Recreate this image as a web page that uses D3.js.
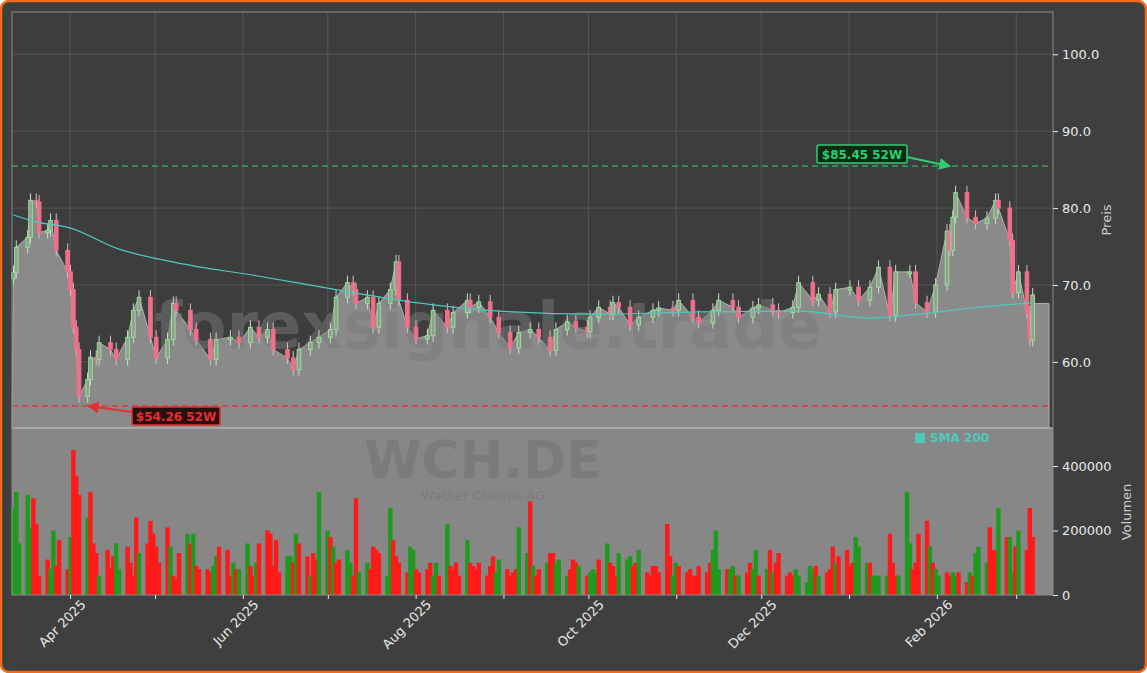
<!DOCTYPE html>
<html><head><meta charset="utf-8">
<script src="https://cdn.jsdelivr.net/npm/d3@7"></script>
<style>body{margin:0;background:#fff}svg{display:block}</style>
</head><body>
<script>
// ---- data ----
const closeIdx = [0,1,3,4,6,7,8,9,11,13,14,15,16,17,18,19,21,22,24,26,28,30,32,34,36,38,40,41,44,46,49,51,54,57,59,62,63,65,68,70,72,74,77,79,81,83,85,86,88,90,92,94,96,97,98,101,103,105,108,110,113,114,117,119,122,124,127,129,132,134,136,138,141,143,144,147,149,150,152,154,157,160,162,165,167,170,172,175,177,180,182,185,187,190,192,195,197,200,202,204,206,209,212,214,217,219,221,224,226,228,231,233,234,235,236,238,241,243,246,247,249,250,252,253,254,255];
const closeVal = [71.6,74.9,76.2,81.0,80.8,76.8,77.1,78.4,74.5,71.7,69.4,64.5,61.6,55.5,57.7,60.6,60.3,62.5,61.6,60.3,63.2,66.7,68.4,63.2,60.5,62.9,67.6,66.7,64.2,62.9,60.3,62.9,63.2,62.5,64.5,63.2,64.2,61.6,60.5,59.0,61.6,62.5,63.2,64.2,68.4,70.3,69.4,67.6,68.4,64.5,67.6,69.4,73.0,68.0,64.5,63.0,63.4,66.7,64.5,66.4,68.0,67.1,67.8,65.8,63.8,61.8,63.8,64.2,63.2,61.5,64.2,65.2,64.5,63.9,65.8,67.1,66.2,67.7,67.1,64.8,65.8,66.7,67.0,66.7,68.0,65.8,65.1,66.7,68.0,67.1,65.8,67.0,67.4,66.7,66.4,67.1,70.3,68.0,68.8,66.5,69.4,69.7,68.0,69.7,72.3,66.0,71.7,71.7,67.7,66.5,70.0,77.0,74.5,78.8,82.0,78.8,78.0,78.7,81.0,80.0,75.8,69.0,71.7,66.4,62.8,68.7];
const smaIdx = [0,6,14,26,41,61,81,101,122,147,172,197,214,227,242,255];
const smaVal = [79.1,78.2,77.4,74.8,72.9,71.2,69.4,67.7,66.6,66.2,66.5,66.6,65.7,66.2,67.1,67.7];
const volK = [270,320,160,310,210,300,220,60,110,80,200,90,170,80,180,450,
370,310,240,320,160,130,60,140,85,120,160,80,150,100,60,240,
130,160,230,190,150,100,210,150,60,50,130,190,160,190,90,80,
80,70,90,120,150,140,60,100,80,80,160,90,60,100,160,200,
190,90,170,70,120,120,100,190,160,120,60,130,110,320,200,180,
150,100,110,140,100,60,300,70,100,80,150,140,130,60,270,170,
120,100,70,150,140,80,70,80,100,60,100,60,220,90,80,100,
60,170,100,90,80,100,60,90,120,70,110,80,60,70,80,210,
130,290,90,60,80,100,130,130,100,110,60,80,110,100,90,60,
70,80,70,110,160,100,90,60,130,110,120,90,100,140,70,60,
90,90,70,220,120,60,100,90,70,80,60,60,90,70,100,140,
200,80,80,80,90,60,60,70,100,80,140,60,80,140,70,100,
130,60,70,60,80,60,40,90,80,90,60,70,80,150,100,120,
140,90,100,180,150,100,100,60,60,60,60,190,100,60,60,320,
160,80,100,190,230,150,100,80,60,70,60,70,60,70,40,70,
60,130,150,100,210,140,140,270,180,180,70,150,200,140,270,180];
const volDir = "gggggrrrrggrrrgrr"+"rgrrrgrrrggrrrr"+"grrrrrrgrrrgrgrr"+"rrggrrrgrggrrgrr"+"rrrrggrgrrgrrggr"+"grrggrrggrrrrggr"+"rrrggrrrrggrgrrr"+"rgrrrrrrrggrrrrg"+"grgrrgrrgggrrrgr"+"gggrgrrrgggrrgrr"+"rrrrrggrrrrrrrrg"+"ggrggrgrrggrgrgr"+"rrrrgggggrgrrrgrr"+"rrgggrggggrrrggg"+"rrrrgrggrrggrrgr"+"gggrrrgrggrgrrrg";
const yTicks = [60,70,80,90,100];
const volTicks = [0,200000,400000];
const hi52 = 85.45, lo52 = 54.26;

// ---- layout ----
const W=1147,H=673, L=12, R=1053, PT=12, PB=428, VB=595;
const svg=d3.select("body").append("svg").attr("width",W).attr("height",H);
svg.append("rect").attr("x",1).attr("y",1).attr("width",W-2).attr("height",H-2).attr("rx",8)
  .attr("fill","#3f3f3f").attr("stroke","#f26a1b").attr("stroke-width",2.5);

const dates=[]; {let d=new Date(2025,2,12); while(dates.length<256){ if(d.getDay()>0&&d.getDay()<6) dates.push(new Date(d)); d=new Date(d.getFullYear(),d.getMonth(),d.getDate()+1);} }
const x=d3.scaleTime().domain([new Date(2025,2,11,12),new Date(2026,2,14)]).range([L,R]);
const xi=i=>x(dates[i])+ (i/255)*8;
const y=d3.scaleLinear().domain([51.4,105.5]).range([PB,PT]);
const yv=d3.scaleLinear().domain([0,518000]).range([VB,PB]);

svg.append("rect").attr("x",L).attr("y",PT).attr("width",R-L).attr("height",PB-PT).attr("fill","#3d3d3d");
svg.append("rect").attr("x",L).attr("y",PB).attr("width",R-L).attr("height",VB-PB).attr("fill","#878787");

const months=d3.timeMonth.range(new Date(2025,3,1),new Date(2026,2,2));
const g=svg.append("g");
months.forEach(m=>g.append("line").attr("x1",x(m)).attr("x2",x(m)).attr("y1",PT).attr("y2",PB).attr("stroke","#5c5c5c").attr("stroke-width",0.8));
yTicks.forEach(t=>g.append("line").attr("x1",L).attr("x2",R).attr("y1",y(t)).attr("y2",y(t)).attr("stroke","#5c5c5c").attr("stroke-width",0.8));

const pts=closeIdx.map((i,k)=>({i,c:closeVal[k],o:k?closeVal[k-1]:closeVal[0]-0.8}));
const ap=pts.map(p=>[xi(p.i),y(p.c)]);
ap.push([xi(255)+0.5,y(67.6)],[1049,y(67.6)],[1049,PB]);
ap.unshift([L,PB]);
svg.append("path").attr("d",d3.line()(ap)+"Z").attr("fill","#8a8a8a").attr("stroke","#b0b0b0").attr("stroke-width",1);

svg.append("text").attr("x",488).attr("y",348).attr("text-anchor","middle").attr("font-family","DejaVu Sans").attr("font-weight","bold").attr("font-size",64).attr("fill","#7a7a7a").attr("opacity",0.5).text("forexsignale.trade");
svg.append("text").attr("x",483).attr("y",478).attr("text-anchor","middle").attr("font-family","DejaVu Sans").attr("font-weight","bold").attr("font-size",52).attr("fill","#7b7b7b").text("WCH.DE");
svg.append("text").attr("x",483).attr("y",500).attr("text-anchor","middle").attr("font-family","DejaVu Sans").attr("font-size",13).attr("fill","#7b7b7b").text("Wacker Chemie AG");

const cg=svg.append("g");
pts.forEach(p=>{
  const up=p.c>=p.o, cx=xi(p.i);
  const top=y(Math.max(p.o,p.c)), bot=y(Math.min(p.o,p.c));
  const col=up?"#8ee68e":"#f0708c";
  cg.append("line").attr("x1",cx).attr("x2",cx).attr("y1",top-7).attr("y2",bot+6).attr("stroke",up?"#c8dcc8":"#e0b8c0").attr("stroke-width",1);
  cg.append("rect").attr("x",cx-1.8).attr("y",top).attr("width",3.6).attr("height",Math.max(2,bot-top))
    .attr("fill",up?"#9a9a9a":col).attr("stroke",col).attr("stroke-width",1);
});

svg.append("path").datum(smaIdx.map((i,k)=>[xi(i),y(smaVal[k])])).attr("fill","none").attr("stroke","#4fc9bd").attr("stroke-width",1.2)
  .attr("d",d3.line().curve(d3.curveMonotoneX));

svg.append("line").attr("x1",L).attr("x2",R).attr("y1",y(hi52)).attr("y2",y(hi52)).attr("stroke","#3cb464").attr("stroke-width",1.3).attr("stroke-dasharray","6,4");
svg.append("line").attr("x1",L).attr("x2",R).attr("y1",y(lo52)).attr("y2",y(lo52)).attr("stroke","#e03c3c").attr("stroke-width",1.3).attr("stroke-dasharray","6,4");
const defs=svg.append("defs");
[["ag","#2ecc71"],["ar","#e53030"]].forEach(([id,c])=>defs.append("marker").attr("id",id).attr("viewBox","0 0 10 10").attr("refX",9).attr("refY",5).attr("markerWidth",6).attr("markerHeight",6).attr("orient","auto").append("path").attr("d","M0,0L10,5L0,10z").attr("fill",c));
svg.append("line").attr("x1",907).attr("y1",157).attr("x2",950).attr("y2",y(hi52)).attr("stroke","#2ecc71").attr("stroke-width",2).attr("marker-end","url(#ag)");
svg.append("rect").attr("x",817).attr("y",145).attr("width",90).attr("height",18).attr("rx",2).attr("fill","#0f2a14").attr("stroke","#2ecc71").attr("stroke-width",1.5);
svg.append("text").attr("x",862).attr("y",158.5).attr("text-anchor","middle").attr("font-family","DejaVu Sans").attr("font-weight","bold").attr("font-size",12).attr("fill","#2ecc71").text("$85.45 52W");
svg.append("line").attr("x1",132).attr("y1",412).attr("x2",88).attr("y2",y(lo52)).attr("stroke","#e53030").attr("stroke-width",2).attr("marker-end","url(#ar)");
svg.append("rect").attr("x",132).attr("y",407).attr("width",88).attr("height",18).attr("rx",2).attr("fill","#2a0f0f").attr("stroke","#e53030").attr("stroke-width",1.5);
svg.append("text").attr("x",176).attr("y",420.5).attr("text-anchor","middle").attr("font-family","DejaVu Sans").attr("font-weight","bold").attr("font-size",12).attr("fill","#e53030").text("$54.26 52W");

const vg=svg.append("g");
volK.forEach((v,i)=>{ if(!dates[i])return;
  vg.append("rect").attr("x",xi(i)-2.2).attr("width",4.4).attr("y",yv(v*1000)).attr("height",VB-yv(v*1000))
   .attr("fill",volDir[i]==="g"?"#1f9a1f":"#ff1a1a");});
svg.append("line").attr("x1",L).attr("x2",R).attr("y1",PB).attr("y2",PB).attr("stroke","#aaa").attr("stroke-width",1.5);

svg.append("rect").attr("x",915).attr("y",433).attr("width",10).attr("height",10).attr("fill","#4fc9bd");
svg.append("text").attr("x",930).attr("y",442).attr("font-family","DejaVu Sans").attr("font-weight","bold").attr("font-size",12).attr("fill","#4fc9bd").text("SMA 200");

svg.append("rect").attr("x",L).attr("y",PT).attr("width",R-L).attr("height",VB-PT).attr("fill","none").attr("stroke","#8a8a8a");

const tc="#e8e8e8";
const ya=svg.append("g").attr("transform",`translate(${R},0)`).call(d3.axisRight(y).tickValues(yTicks).tickFormat(d3.format(".1f")).tickSize(5).tickPadding(4));
const va=svg.append("g").attr("transform",`translate(${R},0)`).call(d3.axisRight(yv).tickValues(volTicks).tickFormat(d=>String(d)).tickSize(5).tickPadding(4));
[ya,va].forEach(a=>{a.select(".domain").remove();a.selectAll("line").attr("stroke",tc);a.selectAll("text").attr("fill",tc).attr("font-size",13).attr("font-family","DejaVu Sans");});
const labelled=[new Date(2025,3,1),new Date(2025,5,1),new Date(2025,7,1),new Date(2025,9,1),new Date(2025,11,1),new Date(2026,1,1)];
const xa=svg.append("g").attr("transform",`translate(0,${VB})`).call(d3.axisBottom(x).tickValues(months).tickSize(4).tickFormat(d=>labelled.some(l=>+l===+d)?d3.timeFormat("%b %Y")(d):""));
xa.select(".domain").remove();
xa.selectAll("line").attr("stroke",tc);
xa.selectAll("text").attr("fill",tc).attr("font-size",13).attr("font-family","DejaVu Sans")
  .attr("text-anchor","end").attr("dx","0.3em").attr("dy","0.9em").attr("transform","rotate(-45)");
svg.append("text").attr("transform","translate(1111,220) rotate(-90)").attr("text-anchor","middle").attr("font-family","DejaVu Sans").attr("font-size",13).attr("fill","#cfcfcf").text("Preis");
svg.append("text").attr("transform","translate(1131,512) rotate(-90)").attr("text-anchor","middle").attr("font-family","DejaVu Sans").attr("font-size",13).attr("fill","#cfcfcf").text("Volumen");
</script>
</body></html>
